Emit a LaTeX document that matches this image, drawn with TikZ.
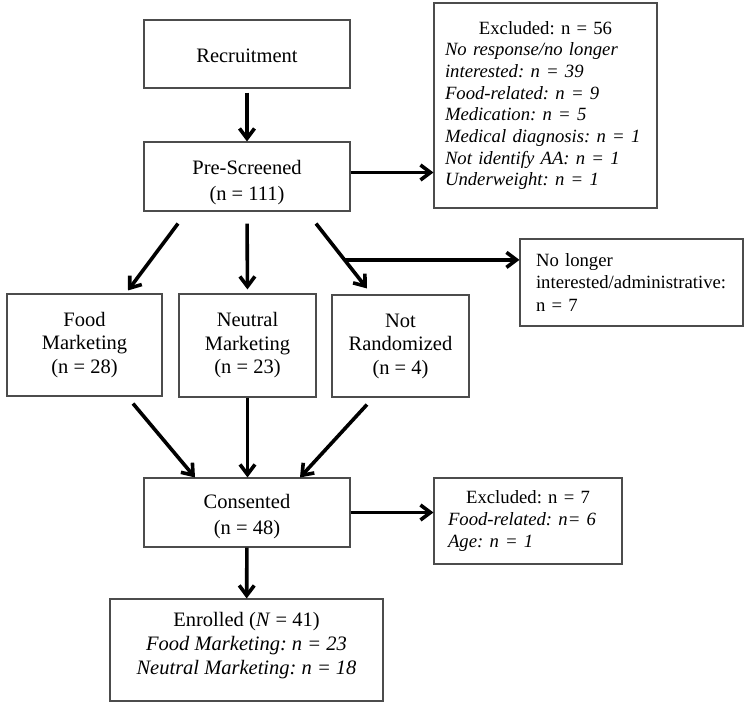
\documentclass[tikz,border=0pt]{standalone}
\usepackage{fontspec}
\setmainfont{Liberation Serif}
\usetikzlibrary{arrows.meta,calc}
\frenchspacing
\newcommand\mainsz{\fontsize{20.5}{26}\selectfont}
\newcommand\sidesz{\fontsize{18.7}{21.7}\selectfont}
\begin{document}
\begin{tikzpicture}[x=1pt,y=-1pt,
  box/.style={draw=black!70, line width=1.1pt, inner sep=0pt, font=\mainsz, align=center},
  sidebox/.style={draw=black!70, line width=1.1pt, inner ysep=0pt, font=\sidesz, align=left},
  arr/.style={line width=3.6pt, -{Straight Barb[length=10pt,width=15pt]}}]
\useasboundingbox[fill=white] (0,0) rectangle (750,723);

\node[box, minimum width=206pt, minimum height=68pt] (rec) at (247,54) {\rule{0pt}{18pt}Recruitment};
\node[box, minimum width=206pt, minimum height=69pt] (pre) at (247,176.5) {\rule{0pt}{26pt}Pre-Screened\\(n = 111)};
\node[sidebox, minimum width=223pt, minimum height=205pt, text width=201pt, inner xsep=11pt] (exa) at (545.5,105.5)
  {\hfill Excluded: n = 56\hfill\null\\
   \textit{No response/no longer}\\
   \textit{interested: n = 39}\\
   \textit{Food-related: n = 9}\\
   \textit{Medication: n = 5}\\
   \textit{Medical diagnosis: n = 1}\\
   \textit{Not identify AA: n = 1}\\
   \textit{Underweight: n = 1}};
\node[sidebox, font=\fontsize{18.7}{22.5}\selectfont, minimum width=223pt, minimum height=87pt, text width=191pt, inner xsep=16pt] (nli) at (631.5,282.5)
  {No longer\\interested/administrative:\\n = 7};
\node[box, minimum width=155pt, minimum height=102pt, font=\fontsize{20.5}{23.5}\selectfont] (food) at (84.5,345) {Food\\Marketing\\(n = 28)};
\node[box, minimum width=137pt, minimum height=103pt, font=\fontsize{20.5}{23.5}\selectfont] (neu) at (247.5,345.5) {Neutral\\Marketing\\(n = 23)};
\node[box, minimum width=137pt, minimum height=102pt, font=\fontsize{20.5}{23.5}\selectfont] (notr) at (400.5,346) {Not\\Randomized\\(n = 4)};
\node[box, minimum width=206pt, minimum height=69pt] (cons) at (247,512.5) {\rule{0pt}{22pt}Consented\\(n = 48)};
\node[sidebox, minimum width=188pt, minimum height=86pt, text width=160pt, inner xsep=14pt] (exb) at (528,521)
  {\hfill Excluded: n = 7\hfill\null\\
   \textit{Food-related: n= 6}\\
   \textit{Age: n = 1}};
\node[box, minimum width=273pt, minimum height=102pt, font=\fontsize{20.5}{24}\selectfont] (enr) at (246.5,650)
  {Enrolled (\textit{N} = 41)\\\textit{Food Marketing: n = 23}\\\textit{Neutral Marketing: n = 18}\\[-10pt]};

% connectors
\draw[arr, shorten <=4pt] (rec) -- (pre);
\draw[arr] (pre.east) ++(0,-4) coordinate (pe) -- (pe -| exa.west);
\coordinate (pl) at ($(pre.south)+(-69,12)$);
\coordinate (pr) at ($(pre.south)+(69,12)$);
\draw[arr] (pl) -- ($(food.north)+(43.5,-3)$);
\draw[arr, shorten <=12pt, shorten >=4pt] (pre.south) -- (neu.north);
\draw[arr] (pr) -- ($(notr.north)+(-33.5,-6)$);
\coordinate (br) at ($(pr)!0.56!($(notr.north)+(-33.5,-6)$)$);
\draw[arr] (br) -- (br -| nli.west);
\draw[arr] ($(food.south)+(48.5,7)$) -- ($(cons.north)+(-52,0)$);
\draw[arr] (neu.south) -- (neu.south |- cons.north);
\draw[arr] ($(notr.south)+(-33.5,7)$) -- ($(cons.north)+(53,0)$);
\draw[arr] (cons.east) -- (cons.east -| exb.west);
\draw[arr] (cons) -- (enr);
\end{tikzpicture}
\end{document}
